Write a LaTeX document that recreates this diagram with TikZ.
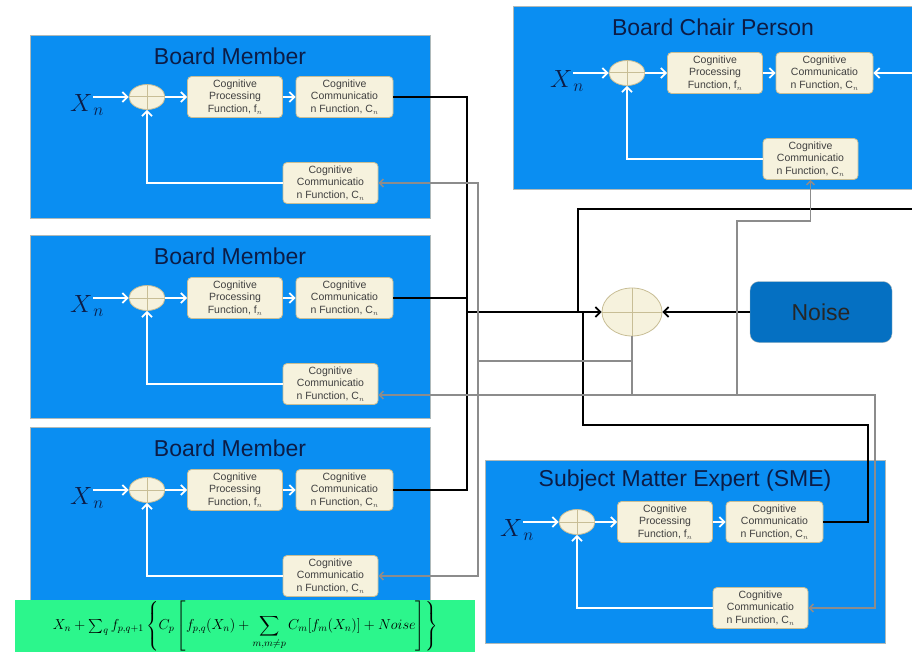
\documentclass[tikz,border=0pt]{standalone}
\usepackage{amsmath,amssymb}
\usepackage{fontspec}
\setmainfont{Liberation Sans}
\usepackage{tikz}
\usetikzlibrary{arrows.meta,positioning,shapes.geometric}

\definecolor{agentblue}{RGB}{10,142,242}
\definecolor{agentedge}{RGB}{175,185,185}
\definecolor{cream}{RGB}{246,242,221}
\definecolor{tan}{RGB}{200,190,150}
\definecolor{navy}{RGB}{12,28,70}
\definecolor{noiseblue}{RGB}{5,112,194}
\definecolor{wiregray}{RGB}{140,140,140}
\definecolor{mint}{RGB}{44,246,140}

\begin{document}
\begin{tikzpicture}[
    x=1pt, y=-1pt,
    >={Straight Barb[length=5pt,width=10pt]},
    block/.style={rectangle, draw=agentedge, fill=agentblue, line width=1pt,
        minimum width=400, minimum height=183, anchor=north west, inner sep=0pt},
    titletext/.style={font=\fontsize{23}{27}\selectfont, text=navy},
    funcbox/.style={rectangle, rounded corners=4, draw=tan, fill=cream, line width=0.8pt,
        minimum width=95, minimum height=41, inner sep=1pt, align=center,
        font=\fontsize{10.5}{12.8}\selectfont, text=black!75},
    summer/.style={ellipse, draw=tan, fill=cream, line width=0.8pt,
        minimum width=36, minimum height=25, inner sep=0pt},
    crossline/.style={tan, line width=1pt},
    xinput/.style={font=\fontsize{25}{25}\selectfont, text=navy},
    inner/.style={->, white, line width=1.8pt},
    wire/.style={black, line width=1.7pt},
    fb/.style={wiregray, line width=1.5pt,
        >={Straight Barb[length=4pt,width=8pt]}},
    noisebox/.style={rectangle, rounded corners=9, draw=agentedge, fill=noiseblue,
        minimum width=142, minimum height=61, font=\fontsize{23}{27}\selectfont, text=black!85},
    formulabox/.style={rectangle, fill=mint, minimum width=460, minimum height=52,
        anchor=north west, inner sep=0pt, font=\fontsize{14}{16}\selectfont},
]
\useasboundingbox (0,0) rectangle (912,652);

% --- Agents: board members, chair person, SME ---
\foreach \ag/\bx/\by/\sx/\sy/\ttl in {
    bma/30/35/147/97/{Board Member},
    bmb/30/235/147/298/{Board Member},
    bmc/30/427/147/490/{Board Member},
    chair/513/6/627/73/{Board Chair Person},
    sme/485/460/577/522/{Subject Matter Expert (SME)}} {
    \node[block] (\ag) at (\bx,\by) {};
    \node[titletext] (\ag-title) at (\bx+200,\by+21) {\ttl};
    \node[summer] (\ag-sum) at (\sx,\sy) {};
    \draw[crossline] (\ag-sum.north) -- (\ag-sum.south) (\ag-sum.west) -- (\ag-sum.east);
    \node[xinput] (\ag-x) at (\sx-60,\sy+8) {$X_{\kern3pt n}$};
    \coordinate (\ag-in) at (\sx-54,\sy);
    \node[funcbox] (\ag-proc) at (\sx+88,\sy) {Cognitive\\Processing\\Function, f$_n$};
    \node[funcbox, minimum width=97] (\ag-comm) at (\sx+197.5,\sy)
        {Cognitive\\Communicatio\\n Function, C$_n$};
    \node[funcbox] (\ag-fb) at (\sx+183.5,\sy+86)
        {Cognitive\\Communicatio\\n Function, C$_n$};
    \draw[inner] (\ag-in) -- (\ag-sum);
    \draw[inner] (\ag-sum) -- (\ag-proc);
    \draw[inner] (\ag-proc) -- (\ag-comm);
    \draw[inner] (\ag-fb.west) -| (\ag-sum.south);
}

% --- Central summation and noise ---
\node[summer, minimum width=60, minimum height=48] (hub) at (632,312) {};
\draw[crossline] (hub.north) -- (hub.south) (hub.west) -- (hub.east);
\node[noisebox] (noise) at (821,312) {Noise};

% --- Formula ---
\node[formulabox] (eq) at (15,600) {$X_n+\sum_q f_{p,q+1}\left\{C_p\left[f_{p,q}(X_n)
    +\displaystyle\sum_{m,m\neq p}C_m[f_m(X_n)]+Noise\right]\right\}$};

% --- Outputs to the hub (black) ---
\coordinate (bus) at (467,312);
\coordinate (chair-out) at (912,209);
\coordinate (chair-rin) at (912,73);
\coordinate (cjoin) at (578,312);
\coordinate (smeturn) at (868,425);
\coordinate (sjoin) at (583,312);
\draw[wire] (bma-comm.east) -| (bus);
\draw[wire] (bmc-comm.east) -| (bus);
\draw[wire] (bmb-comm.east) -- (bmb-comm.east -| bus);
\draw[wire, ->] (bus) -- (hub.west);
\draw[wire] (chair-out) -| (cjoin);
\draw[wire] (sme-comm.east) -| (smeturn) -| (sjoin);
\draw[wire, ->] (noise) -- (hub);
\draw[inner] (chair-rin) -- (chair-comm.east);

% --- Feedback from the hub (gray) ---
\coordinate (fbrow) at (632,395);
\coordinate (fbright) at (875,395);
\coordinate (fbup) at (737,395);
\coordinate (chairturn) at (737,221);
\coordinate (fbmid) at (632,361);
\coordinate (fbleft) at (478,361);
\draw[fb, ->] (hub.south) |- (bmb-fb.east |- fbrow);
\draw[fb, ->] (fbrow) -- (fbright) |- (sme-fb.east);
\draw[fb, ->] (fbup) -- (chairturn) -| (chair-fb.south);
\draw[fb] (fbmid) -- (fbleft);
\draw[fb, ->] (fbleft) |- (bma-fb.east);
\draw[fb, ->] (fbleft) |- (bmc-fb.east);

\end{tikzpicture}
\end{document}
